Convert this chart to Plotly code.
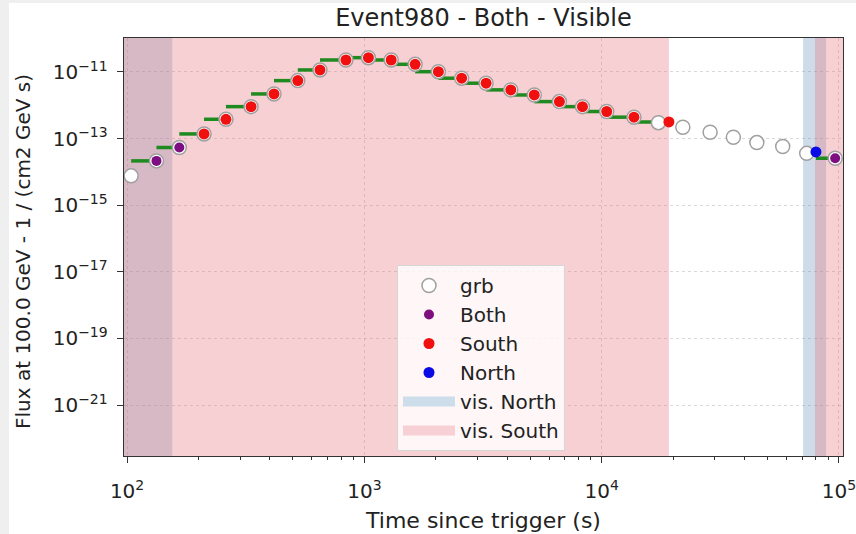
import plotly.graph_objects as go

# ---- light curve of the burst (time since trigger in s, flux at 100 GeV) ----
grb_time = [104, 133, 166, 211, 261, 333, 416, 524, 650, 836,
            1040, 1297, 1637, 2051, 2570, 3258, 4140, 5200, 6637, 8300,
            10500, 13680, 17340, 21980, 28640, 35890, 45080, 57940, 73110, 96380]
grb_flux = [7.6e-15, 2.14e-14, 5.4e-14, 1.38e-13, 3.8e-13, 9.1e-13, 2.19e-12, 5.5e-12, 1.15e-11, 2.29e-11,
            2.69e-11, 2.29e-11, 1.70e-11, 1.02e-11, 6.5e-12, 4.6e-12, 2.9e-12, 2.04e-12, 1.29e-12, 9.1e-13,
            6.5e-13, 4.4e-13, 3.0e-13, 2.19e-13, 1.55e-13, 1.10e-13, 7.6e-14, 5.8e-14, 3.6e-14, 2.57e-14]

# ---- points seen from both sites / south only / north only ----
both_time = [133, 166, 96380]
both_flux = [2.14e-14, 5.4e-14, 2.57e-14]

south_time = [211, 261, 333, 416, 524, 650, 836, 1040, 1297, 1637,
              2051, 2570, 3258, 4140, 5200, 6637, 8300, 10500, 13680, 19200]
south_flux = [1.38e-13, 3.8e-13, 9.1e-13, 2.19e-12, 5.5e-12, 1.15e-11, 2.29e-11, 2.69e-11, 2.29e-11, 1.70e-11,
              1.02e-11, 6.5e-12, 4.6e-12, 2.9e-12, 2.04e-12, 1.29e-12, 9.1e-13, 6.5e-13, 4.4e-13, 3.16e-13]

north_time = [79980]
north_flux = [3.98e-14]

# ---- visibility windows (s) ----
vis_north_start = [50, 70600]
vis_north_stop = [155, 88300]
vis_south_start = [50, 79300]
vis_south_stop = [19200, 300000]

NORTH_FILL = "rgba(90,140,180,0.30)"
SOUTH_FILL = "rgba(232,120,132,0.35)"
NORTH_ICON = "rgb(205,221,233)"
SOUTH_ICON = "rgb(246,208,212)"

FLUX_LO, FLUX_HI = 1e-25, 1e-8   # vertical extent of the visibility bands (clipped by the axes)

fig = go.Figure()


def band_trace(starts, stops, color):
    xs, ys = [], []
    for a, b in zip(starts, stops):
        xs += [a, b, b, a, a, None]
        ys += [FLUX_LO, FLUX_LO, FLUX_HI, FLUX_HI, FLUX_LO, None]
    return go.Scatter(x=xs, y=ys, mode="lines", fill="toself", fillcolor=color,
                      line=dict(width=0, color=color), showlegend=False,
                      hoverinfo="skip")


fig.add_trace(band_trace(vis_north_start, vis_north_stop, NORTH_FILL))
fig.add_trace(band_trace(vis_south_start, vis_south_stop, SOUTH_FILL))

# ---- green bins: each detected point spans back to the previous time of its window ----
det = sorted(list(zip(both_time, both_flux)) + list(zip(south_time, south_flux))
             + list(zip(north_time, north_flux)))
windows = [(min(vis_north_start[0], vis_south_start[0]), vis_south_stop[0]),
           (vis_north_start[1], vis_south_stop[1])]


def window_of(t):
    for i, (a, b) in enumerate(windows):
        if a <= t <= b:
            return i
    return -1


seg_x, seg_y = [], []
prev = None
for t, f in det:
    if prev is not None and window_of(prev) == window_of(t):
        start = prev
    else:
        start = max(g for g in grb_time if g < t)
    seg_x += [start, t, None]
    seg_y += [f, f, None]
    prev = t

fig.add_trace(go.Scatter(x=seg_x, y=seg_y, mode="lines",
                         line=dict(color="#1f8a1f", width=3.5),
                         showlegend=False, hoverinfo="skip"))

fig.add_trace(go.Scatter(x=grb_time, y=grb_flux, mode="markers", name="grb", legendrank=1,
                         marker=dict(symbol="circle", size=14, color="white",
                                     line=dict(color="#a0a0a0", width=1.5))))
fig.add_trace(go.Scatter(x=both_time, y=both_flux, mode="markers", name="Both", legendrank=2,
                         marker=dict(size=10, color="#7d0f80")))
fig.add_trace(go.Scatter(x=south_time, y=south_flux, mode="markers", name="South", legendrank=3,
                         marker=dict(size=11, color="#f01010")))
fig.add_trace(go.Scatter(x=north_time, y=north_flux, mode="markers", name="North", legendrank=4,
                         marker=dict(size=11, color="#0a0ae6")))

# legend keys for the visibility bands
fig.add_trace(go.Scatter(x=[None], y=[None], mode="lines", name="vis. North", legendrank=5,
                         line=dict(color=NORTH_ICON, width=12)))
fig.add_trace(go.Scatter(x=[None], y=[None], mode="lines", name="vis. South", legendrank=6,
                         line=dict(color=SOUTH_ICON, width=12)))

FONT = "DejaVu Sans"
axis_common = dict(
    type="log", showline=True, linecolor="#333333", linewidth=1.2, mirror=True,
    ticks="outside", ticklen=6, tickwidth=1.2, tickcolor="#333333",
    exponentformat="power", showgrid=True, gridcolor="rgba(120,120,120,0.28)",
    griddash="dot", gridwidth=1, zeroline=False, ticklabeloverflow="allow",
    automargin=False, tickfont=dict(family=FONT, size=16, color="#222222"),
)

fig.update_layout(
    width=856, height=534,
    margin=dict(l=124, r=13, t=38, b=78, autoexpand=False),
    paper_bgcolor="white", plot_bgcolor="white",
    font=dict(family=FONT, color="#222222"),
    title=dict(text="Event980 - Both - Visible", x=0.5, xref="paper",
               y=1 - 18 / 534, yanchor="middle",
               font=dict(family=FONT, size=24, color="#222222")),
    xaxis=dict(axis_common, range=[1.987, 5.017], dtick=1, ticklabelstandoff=12,
               title=dict(text="Time since trigger (s)", font=dict(family=FONT, size=22), standoff=10),
               minor=dict(ticks="outside", ticklen=3, tickcolor="#333333", dtick="D1", showgrid=False)),
    yaxis=dict(axis_common, range=[-22.53, -9.98], dtick=2, tick0=1, ticklabelstandoff=6),
    annotations=[
        dict(text="Flux at 100.0 GeV - 1 / (cm2 GeV s)", textangle=-90,
             xref="paper", yref="paper", x=(23 - 124) / 719, y=(456 - 252) / 418,
             xanchor="center", yanchor="middle", showarrow=False,
             font=dict(family=FONT, size=20, color="#222222")),
    ],
    legend=dict(x=(397 - 124) / 719, y=(456 - 265) / 418, xanchor="left", yanchor="top",
                bgcolor="rgba(255,255,255,0.8)", bordercolor="#d6d6d6", borderwidth=1,
                font=dict(family=FONT, size=20, color="#222222"), itemwidth=52,
                traceorder="normal"),
    showlegend=True,
    shapes=[
        dict(type="rect", xref="paper", yref="paper", x0=-124 / 719, x1=-115 / 719,
             y0=-78 / 418, y1=456 / 418, fillcolor="#efefef", line=dict(width=0), layer="below"),
        dict(type="rect", xref="paper", yref="paper", x0=-124 / 719, x1=732 / 719,
             y0=453 / 418, y1=456 / 418, fillcolor="#efefef", line=dict(width=0), layer="below"),
    ],
)

fig.write_html("out.html")
